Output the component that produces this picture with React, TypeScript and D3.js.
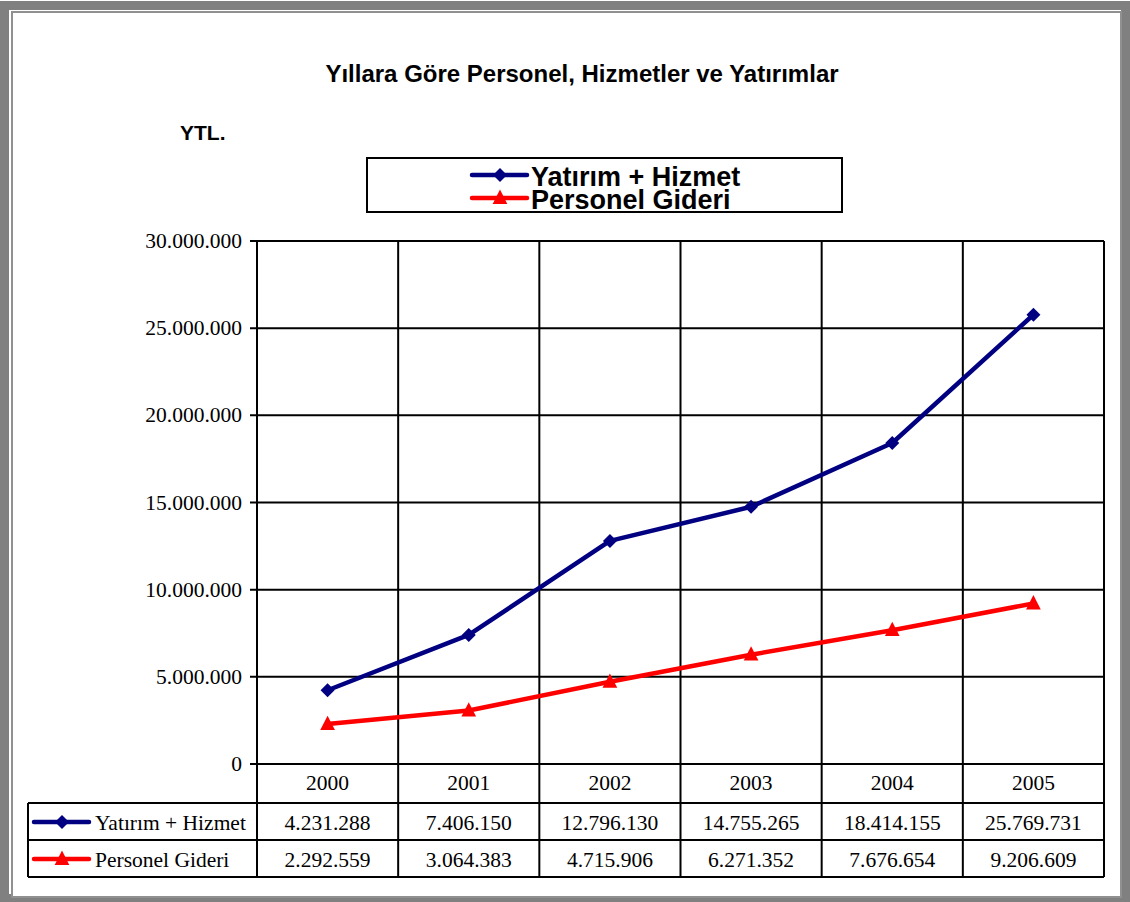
import React, { useEffect, useRef } from 'react';
import * as d3 from 'd3';

const years = ['2000', '2001', '2002', '2003', '2004', '2005'];
const yatirimHizmet = [4231288, 7406150, 12796130, 14755265, 18414155, 25769731];
const personelGideri = [2292559, 3064383, 4715906, 6271352, 7676654, 9206609];
const yTicks = [0, 5000000, 10000000, 15000000, 20000000, 25000000, 30000000];

const seriesNames = ['Yatırım + Hizmet', 'Personel Gideri'];
const seriesColors = ['#000080', '#FF0000'];

const W = 1130;
const H = 902;

const fmt = (v: number) => (v === 0 ? '0' : d3.format(',')(v).replace(/,/g, '.'));

const App = () => {
  const ref = useRef<SVGSVGElement | null>(null);

  useEffect(() => {
    if (!ref.current) return;
    const svg = d3.select(ref.current);
    svg.selectAll('*').remove();

    const sans = 'Arial, "Liberation Sans", sans-serif';
    const serif = '"Times New Roman", "Liberation Serif", serif';
    const serifSize = '21.5px';

    // frame
    svg.append('rect').attr('width', W).attr('height', H).attr('fill', '#fff');
    svg.append('rect')
      .attr('x', 4.5).attr('y', 5.5).attr('width', W - 9).attr('height', H - 9)
      .attr('fill', 'none').attr('stroke', '#808080').attr('stroke-width', 9);
    svg.append('rect')
      .attr('x', 12).attr('y', 12).attr('width', W - 21).attr('height', H - 17)
      .attr('fill', '#fff').attr('stroke', '#909090').attr('stroke-width', 2);

    // title
    svg.append('text')
      .attr('x', 582).attr('y', 82)
      .attr('text-anchor', 'middle')
      .style('font-family', sans).style('font-weight', 'bold').style('font-size', '24px')
      .text('Yıllara Göre Personel, Hizmetler ve Yatırımlar');
    svg.append('text')
      .attr('x', 180).attr('y', 140)
      .style('font-family', sans).style('font-weight', 'bold').style('font-size', '21px')
      .text('YTL.');

    const left = 257, right = 1104, top = 241, bottom = 764;
    const x = d3.scaleBand<string>().domain(years).range([left, right]);
    const y = d3.scaleLinear().domain([0, 30000000]).range([bottom, top]);

    // grid
    const g = svg.append('g');
    yTicks.forEach(t => {
      g.append('line')
        .attr('x1', left - 7).attr('x2', right)
        .attr('y1', y(t)).attr('y2', y(t))
        .attr('stroke', '#000').attr('stroke-width', 2);
      g.append('text')
        .attr('x', 242).attr('y', y(t) + 7)
        .attr('text-anchor', 'end')
        .style('font-family', serif).style('font-size', serifSize)
        .text(fmt(t));
    });
    const bounds = years.map(yr => x(yr) as number).concat([right]);
    bounds.forEach(bx => {
      g.append('line')
        .attr('x1', bx).attr('x2', bx)
        .attr('y1', top).attr('y2', 877)
        .attr('stroke', '#000').attr('stroke-width', 2);
    });

    // table
    const tableLeft = 28;
    const rowLines = [803, 840, 877];
    rowLines.forEach(ry => {
      g.append('line')
        .attr('x1', tableLeft).attr('x2', right)
        .attr('y1', ry).attr('y2', ry)
        .attr('stroke', '#000').attr('stroke-width', 2);
    });
    g.append('line')
      .attr('x1', tableLeft).attr('x2', tableLeft)
      .attr('y1', 803).attr('y2', 877)
      .attr('stroke', '#000').attr('stroke-width', 2);

    years.forEach(yr => {
      g.append('text')
        .attr('x', (x(yr) as number) + x.bandwidth() / 2).attr('y', 790)
        .attr('text-anchor', 'middle')
        .style('font-family', serif).style('font-size', serifSize)
        .text(yr);
    });

    const data = [yatirimHizmet, personelGideri];
    const rowY = [830, 867];

    const drawMarker = (sel: any, i: number, cx: number, cy: number, s: number) => {
      if (i === 0) {
        sel.append('path')
          .attr('d', `M${cx},${cy - s}L${cx + s},${cy}L${cx},${cy + s}L${cx - s},${cy}Z`)
          .attr('fill', seriesColors[i]);
      } else {
        sel.append('path')
          .attr('d', `M${cx},${cy - s * 1.2}L${cx + s * 1.05},${cy + s * 0.85}L${cx - s * 1.05},${cy + s * 0.85}Z`)
          .attr('fill', seriesColors[i]);
      }
    };

    data.forEach((vals, i) => {
      // table row
      const ly = rowY[i] - 8;
      g.append('line')
        .attr('x1', 34).attr('x2', 89).attr('y1', ly).attr('y2', ly)
        .attr('stroke', seriesColors[i]).attr('stroke-width', 4.5).attr('stroke-linecap', 'round');
      drawMarker(g, i, 62, ly, 7);
      g.append('text')
        .attr('x', 95).attr('y', rowY[i])
        .style('font-family', serif).style('font-size', serifSize)
        .text(seriesNames[i]);
      vals.forEach((v, j) => {
        g.append('text')
          .attr('x', (x(years[j]) as number) + x.bandwidth() / 2).attr('y', rowY[i])
          .attr('text-anchor', 'middle')
          .style('font-family', serif).style('font-size', serifSize)
          .text(fmt(v));
      });

      // series line
      const line = d3.line<number>()
        .x((_, j) => (x(years[j]) as number) + x.bandwidth() / 2)
        .y(d => y(d));
      g.append('path')
        .datum(vals)
        .attr('d', line)
        .attr('fill', 'none')
        .attr('stroke', seriesColors[i])
        .attr('stroke-width', 4.5)
        .attr('stroke-linejoin', 'round');
      vals.forEach((v, j) => {
        drawMarker(g, i, (x(years[j]) as number) + x.bandwidth() / 2, y(v), 7);
      });
    });

    // legend
    const lg = svg.append('g');
    lg.append('rect')
      .attr('x', 367).attr('y', 158).attr('width', 475).attr('height', 54)
      .attr('fill', '#fff').attr('stroke', '#000').attr('stroke-width', 2);
    const legY = [175, 198];
    seriesNames.forEach((name, i) => {
      lg.append('line')
        .attr('x1', 472).attr('x2', 527).attr('y1', legY[i]).attr('y2', legY[i])
        .attr('stroke', seriesColors[i]).attr('stroke-width', 4.5).attr('stroke-linecap', 'round');
      drawMarker(lg, i, 500, legY[i], 7);
      lg.append('text')
        .attr('x', 531).attr('y', legY[i] + 11)
        .style('font-family', sans).style('font-weight', 'bold').style('font-size', '27px')
        .text(name);
    });
  }, []);

  return (
    <svg
      ref={ref}
      width={W}
      height={H}
      style={{ position: 'absolute', left: 0, top: 0, display: 'block' }}
    />
  );
};

export default App;
